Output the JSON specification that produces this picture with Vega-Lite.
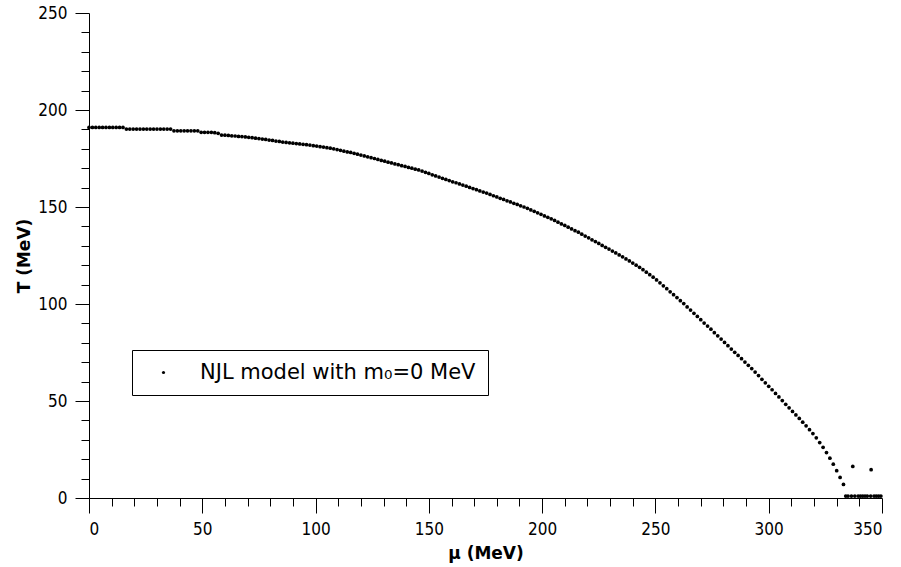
{
  "$schema": "https://vega.github.io/schema/vega-lite/v6.json",
  "width": 793,
  "height": 485,
  "autosize": "none",
  "padding": {"left": 89, "top": 13, "right": 19, "bottom": 69},
  "background": "white",
  "config": {
    "view": {"stroke": null},
    "font": "DejaVu Sans Condensed",
    "axis": {"grid": false, "domainColor": "black", "tickColor": "black", "labelColor": "black", "titleColor": "black", "labelFont": "DejaVu Sans Condensed", "titleFont": "DejaVu Sans", "domainWidth": 1, "tickWidth": 1}
  },
  "datasets": {
    "pts": [
      {"mu":0,"T":191},{"mu":1.5,"T":191},{"mu":3,"T":191},{"mu":4.5,"T":191},{"mu":6,"T":191},{"mu":7.5,"T":191},{"mu":9,"T":191},{"mu":10.5,"T":191},{"mu":12,"T":191},{"mu":13.5,"T":191},{"mu":15,"T":191},
      {"mu":16.5,"T":190.2},{"mu":18,"T":190.2},{"mu":19.5,"T":190.2},{"mu":21,"T":190.2},{"mu":22.5,"T":190.2},{"mu":24,"T":190.2},{"mu":25.5,"T":190.2},{"mu":27,"T":190.2},{"mu":28.5,"T":190.2},{"mu":30,"T":190.2},{"mu":31.5,"T":190.2},{"mu":33,"T":190.2},{"mu":34.5,"T":190.2},{"mu":36,"T":190.2},
      {"mu":37.5,"T":189.3},{"mu":39,"T":189.3},{"mu":40.5,"T":189.3},{"mu":42,"T":189.3},{"mu":43.5,"T":189.3},{"mu":45,"T":189.3},{"mu":46.5,"T":189.3},{"mu":48,"T":189.3},
      {"mu":49.5,"T":188.5},{"mu":51,"T":188.5},{"mu":52.5,"T":188.5},{"mu":54,"T":188.5},{"mu":55.5,"T":188.3},{"mu":57,"T":188.0},
      {"mu":58.5,"T":187.1},{"mu":60,"T":187.0},{"mu":61.5,"T":186.9},{"mu":63,"T":186.7},{"mu":64.5,"T":186.6},{"mu":66,"T":186.4},{"mu":67.5,"T":186.3},{"mu":69,"T":186.1},{"mu":70.5,"T":185.9},{"mu":72,"T":185.7},{"mu":73.5,"T":185.5},{"mu":75,"T":185.3},{"mu":76.5,"T":185.0},{"mu":78,"T":184.8},{"mu":79.5,"T":184.5},{"mu":81,"T":184.3},{"mu":82.5,"T":184.0},{"mu":84,"T":183.8},{"mu":85.5,"T":183.5},{"mu":87,"T":183.3},{"mu":88.5,"T":183.1},{"mu":90,"T":182.9},{"mu":91.5,"T":182.7},{"mu":93,"T":182.5},{"mu":94.5,"T":182.3},{"mu":96,"T":182.1},{"mu":97.5,"T":181.9},{"mu":99,"T":181.6},{"mu":100.5,"T":181.4},{"mu":102,"T":181.1},{"mu":103.5,"T":180.9},{"mu":105,"T":180.6},{"mu":106.5,"T":180.3},{"mu":108,"T":180.0},{"mu":109.5,"T":179.6},{"mu":111,"T":179.2},{"mu":112.5,"T":178.8},{"mu":114,"T":178.4},{"mu":115.5,"T":178.1},{"mu":117,"T":177.7},{"mu":118.5,"T":177.2},{"mu":120,"T":176.8},{"mu":121.5,"T":176.3},{"mu":123,"T":175.9},{"mu":124.5,"T":175.4},{"mu":126,"T":175.0},{"mu":127.5,"T":174.5},{"mu":129,"T":174.0},{"mu":130.5,"T":173.6},{"mu":132,"T":173.1},{"mu":133.5,"T":172.7},{"mu":135,"T":172.2},{"mu":136.5,"T":171.8},{"mu":138,"T":171.3},{"mu":139.5,"T":170.9},{"mu":141,"T":170.4},{"mu":142.5,"T":170.0},{"mu":144,"T":169.5},{"mu":145.5,"T":169.1},{"mu":147,"T":168.5},{"mu":148.5,"T":167.9},{"mu":150,"T":167.3},{"mu":151.5,"T":166.6},{"mu":153,"T":166.0},{"mu":154.5,"T":165.4},{"mu":156,"T":164.8},{"mu":157.5,"T":164.2},{"mu":159,"T":163.6},{"mu":160.5,"T":163.0},{"mu":162,"T":162.5},{"mu":163.5,"T":161.9},{"mu":165,"T":161.3},{"mu":166.5,"T":160.7},{"mu":168,"T":160.1},{"mu":169.5,"T":159.5},{"mu":171,"T":158.9},{"mu":172.5,"T":158.3},{"mu":174,"T":157.7},{"mu":175.5,"T":157.2},{"mu":177,"T":156.5},{"mu":178.5,"T":155.8},{"mu":180,"T":155.2},{"mu":181.5,"T":154.5},{"mu":183,"T":153.9},{"mu":184.5,"T":153.2},{"mu":186,"T":152.6},{"mu":187.5,"T":151.9},{"mu":189,"T":151.3},{"mu":190.5,"T":150.6},{"mu":192,"T":150.0},{"mu":193.5,"T":149.3},{"mu":195,"T":148.5},{"mu":196.5,"T":147.8},{"mu":198,"T":147.0},{"mu":199.5,"T":146.2},{"mu":201,"T":145.4},{"mu":202.5,"T":144.7},{"mu":204,"T":143.9},{"mu":205.5,"T":143.1},{"mu":207,"T":142.2},{"mu":208.5,"T":141.3},{"mu":210,"T":140.5},{"mu":211.5,"T":139.6},{"mu":213,"T":138.7},{"mu":214.5,"T":137.8},{"mu":216,"T":137.0},{"mu":217.5,"T":136.0},{"mu":219,"T":135.0},{"mu":220.5,"T":134.1},{"mu":222,"T":133.1},{"mu":223.5,"T":132.2},{"mu":225,"T":131.2},{"mu":226.5,"T":130.2},{"mu":228,"T":129.2},{"mu":229.5,"T":128.3},{"mu":231,"T":127.3},{"mu":232.5,"T":126.3},{"mu":234,"T":125.3},{"mu":235.5,"T":124.3},{"mu":237,"T":123.2},{"mu":238.5,"T":122.2},{"mu":240,"T":121.1},{"mu":241.5,"T":120.0},{"mu":243,"T":118.9},{"mu":244.5,"T":117.7},{"mu":246,"T":116.4},{"mu":247.5,"T":115.1},{"mu":249,"T":113.8},{"mu":250.5,"T":112.4},{"mu":252,"T":110.9},{"mu":253.5,"T":109.4},{"mu":255,"T":107.9},{"mu":256.5,"T":106.3},{"mu":258,"T":104.8},{"mu":259.5,"T":103.3},{"mu":261,"T":101.7},{"mu":262.5,"T":100.2},{"mu":264,"T":98.5},{"mu":265.5,"T":96.9},{"mu":267,"T":95.2},{"mu":268.5,"T":93.6},{"mu":270,"T":91.9},{"mu":271.5,"T":90.2},{"mu":273,"T":88.6},{"mu":274.5,"T":87.0},{"mu":276,"T":85.2},{"mu":277.5,"T":83.6},{"mu":279,"T":81.9},{"mu":280.5,"T":80.2},{"mu":282,"T":78.5},{"mu":283.5,"T":76.8},{"mu":285,"T":75.1},{"mu":286.5,"T":73.5},{"mu":288,"T":71.8},{"mu":289.5,"T":70.1},{"mu":291,"T":68.4},{"mu":292.5,"T":66.7},{"mu":294,"T":64.9},{"mu":295.5,"T":63.1},{"mu":297,"T":61.2},{"mu":298.5,"T":59.4},{"mu":300,"T":57.6},{"mu":301.5,"T":55.8},{"mu":303,"T":53.9},{"mu":304.5,"T":52.1},{"mu":306,"T":50.2},{"mu":307.5,"T":48.3},{"mu":309,"T":46.5},{"mu":310.5,"T":44.6},{"mu":312,"T":42.8},{"mu":313.5,"T":41.0},{"mu":315,"T":39.1},{"mu":316.5,"T":37.2},{"mu":318,"T":35.2},{"mu":319.5,"T":33.2},{"mu":321,"T":31.0},{"mu":322.5,"T":28.6},{"mu":324,"T":26.1},{"mu":325.5,"T":23.4},{"mu":327,"T":20.5},{"mu":328.5,"T":17.4},{"mu":330,"T":14.1},{"mu":331.5,"T":10.6},{"mu":333,"T":7.0},
      {"mu":334,"T":1},{"mu":335,"T":1},{"mu":336.5,"T":1},{"mu":338,"T":1},{"mu":339.5,"T":1},{"mu":340.5,"T":1},{"mu":341.5,"T":1},{"mu":342.5,"T":1},{"mu":343.5,"T":1},{"mu":345,"T":1},{"mu":346.5,"T":1},{"mu":347.5,"T":1},{"mu":348.5,"T":1},{"mu":349.5,"T":1},
      {"mu":337.1,"T":16.3},{"mu":345.2,"T":14.6}
    ]
  },
  "data": {"name": "pts"},
  "layer": [
    {
      "mark": {"type": "point", "filled": true, "shape": "circle", "size": 14, "opacity": 1},
      "encoding": {
        "x": {"field": "mu", "type": "quantitative", "scale": {"domain": [0, 350], "nice": false},
          "axis": {"orient": "bottom", "values": [0, 50, 100, 150, 200, 250, 300, 350], "tickSize": 15, "labelFontSize": 17, "labelPadding": 8, "title": "μ (MeV)", "titleFontSize": 17, "titleFontWeight": "bold", "titlePadding": 8}},
        "y": {"field": "T", "type": "quantitative", "scale": {"domain": [0, 250], "nice": false},
          "axis": {"orient": "left", "values": [0, 50, 100, 150, 200, 250], "tickSize": 14, "labelFontSize": 17, "labelPadding": 8, "title": "T (MeV)", "titleFontSize": 17, "titleFontWeight": "bold", "titlePadding": 4}},
        "color": {"datum": "NJL model with m₀=0 MeV", "type": "nominal", "scale": {"range": ["black"]},
          "legend": {"title": null, "orient": "none", "legendX": 43, "legendY": 337, "strokeColor": "black", "fillColor": "white", "padding": 12, "labelFontSize": 21, "labelLimit": 500, "labelFont": "DejaVu Sans", "labelColor": "black", "symbolType": "circle", "symbolSize": 10, "symbolFillColor": "black", "symbolStrokeWidth": 0, "symbolOffset": 9, "labelOffset": 26}}
      }
    },
    {
      "mark": {"type": "point", "opacity": 0},
      "encoding": {
        "x": {"field": "mu", "type": "quantitative", "axis": {"orient": "bottom", "values": [10,20,30,40,60,70,80,90,110,120,130,140,160,170,180,190,210,220,230,240,260,270,280,290,310,320,330,340], "tickSize": 8, "labels": false, "domain": false, "title": null}},
        "y": {"field": "T", "type": "quantitative", "axis": {"orient": "left", "values": [10,20,30,40,60,70,80,90,110,120,130,140,160,170,180,190,210,220,230,240], "tickSize": 8, "labels": false, "domain": false, "title": null}}
      }
    }
  ],
  "resolve": {"axis": {"x": "independent", "y": "independent"}}
}
